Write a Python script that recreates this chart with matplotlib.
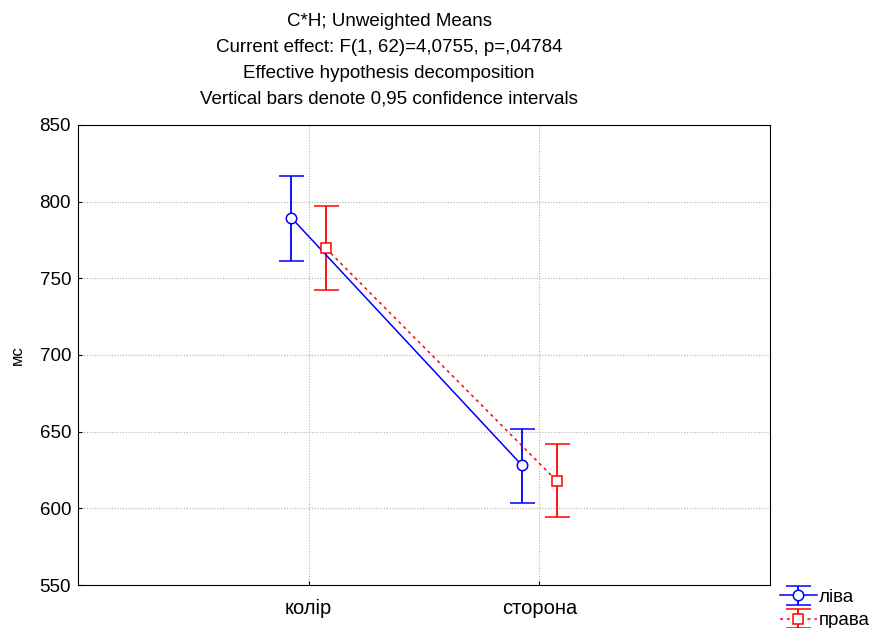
import matplotlib
matplotlib.use("Agg")
import matplotlib.pyplot as plt
import numpy as np

categories = ["колір", "сторона"]
series_names = ["ліва", "права"]
liva_mean = [789.5, 628.0]
liva_low = [761.5, 603.5]
liva_high = [817.0, 652.0]
prava_mean = [769.5, 618.0]
prava_low = [742.5, 594.5]
prava_high = [797.0, 642.0]

plt.rcParams['font.family'] = ['Arial', 'Liberation Sans', 'DejaVu Sans']

fig = plt.figure(figsize=(8.72, 6.28), dpi=100)
ax = fig.add_axes([78/872, 1-585/628, (770-78)/872, (585-125)/628])

x = np.arange(1, len(categories)+1)
off = 0.075

def draw(xs, mean, low, high, color, marker, ls, label):
    mean = np.array(mean); low = np.array(low); high = np.array(high)
    yerr = [mean - low, high - mean]
    c = ax.errorbar(xs, mean, yerr=yerr, color=color, linestyle=ls, linewidth=1.1,
                    marker=marker, markersize=7.5, markerfacecolor='white',
                    markeredgecolor=color, markeredgewidth=1.1, capsize=9,
                    elinewidth=1.3, capthick=1.3, label=label, zorder=3)
    return c

draw(x - off, liva_mean, liva_low, liva_high, '#0000ff', 'o', '-', series_names[0])
draw(x + off, prava_mean, prava_low, prava_high, '#ff0000', 's', (0, (2, 2.5)), series_names[1])

ax.set_xlim(0, 3)
ax.set_ylim(550, 850)
ax.set_xticks(x)
ax.set_xticklabels(categories)
ax.set_yticks(np.arange(550, 851, 50))
ax.tick_params(axis='y', labelsize=13.5, length=3, direction='in', pad=5)
ax.tick_params(axis='x', labelsize=14.5, length=3, direction='in', pad=10)
ax.grid(True, color='#b0b0b0', linestyle=(0, (1, 1.5)), linewidth=0.8)
ax.set_axisbelow(True)
ax.set_ylabel("мс", fontsize=12)
ax.yaxis.set_label_coords(-0.077, 0.5)

title = ("C*H; Unweighted Means\nCurrent effect: F(1, 62)=4,0755, p=,04784\n"
         "Effective hypothesis decomposition\nVertical bars denote 0,95 confidence intervals")
fig.text(389/872, 1-13/628, title, ha='center', va='top', fontsize=13.5, linespacing=1.68)

leg = ax.legend(loc='lower left', bbox_to_anchor=(0.995, -0.125), frameon=False,
                fontsize=13.5, handlelength=2.0, handletextpad=0.1, labelspacing=0.35,
                borderaxespad=0.3)

fig.savefig("out.png", dpi=100)
